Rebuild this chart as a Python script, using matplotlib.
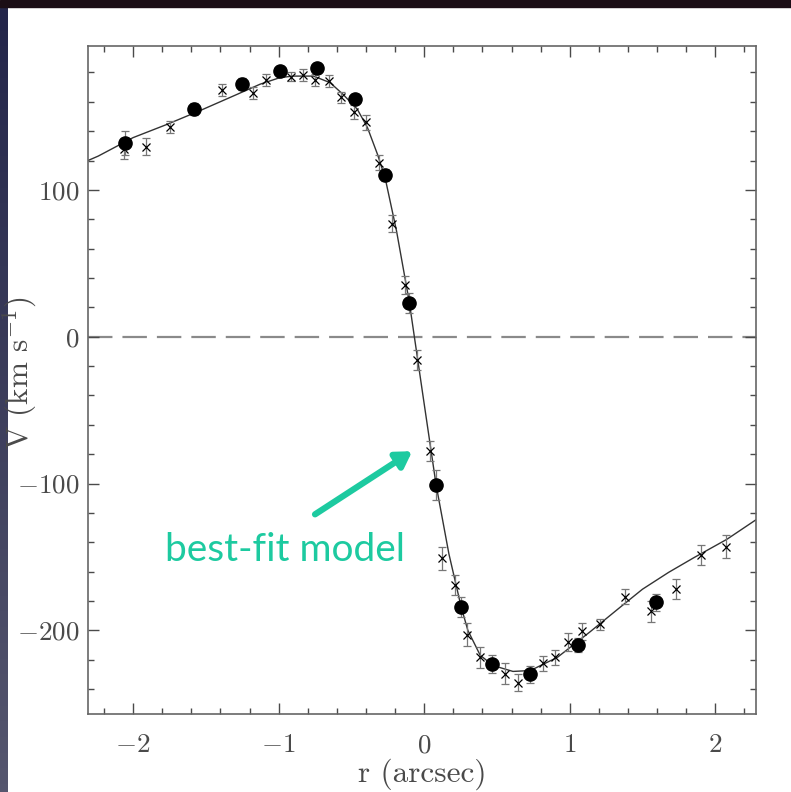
import matplotlib
matplotlib.use("Agg")
import matplotlib.pyplot as plt
import numpy as np
from matplotlib.patches import Rectangle
from matplotlib.ticker import MultipleLocator

plt.rcParams['font.family'] = ['cmr10', 'DejaVu Serif']
plt.rcParams['mathtext.fontset'] = 'cm'
plt.rcParams['axes.formatter.use_mathtext'] = True

# filled circles (r in arcsec, V in km/s, error)
circ_r = [-2.055, -1.58, -1.25, -0.99, -0.735, -0.474, -0.268, -0.103, 0.082, 0.254, 0.467, 0.729, 1.058, 1.595]
circ_v = [132, 155, 172, 181, 183, 162, 110, 23, -101, -184, -223, -230, -210, -181]
circ_e = [8, 4, 4, 3, 3, 3, 4, 7, 10, 7, 6, 6, 5, 6]

# crosses
crs_r = [-2.06, -1.91, -1.746, -1.39, -1.175, -1.086, -0.914, -0.83, -0.75, -0.653, -0.57, -0.48,
         -0.40, -0.31, -0.22, -0.13, -0.048, 0.041, 0.124, 0.213, 0.296, 0.385, 0.557, 0.646,
         0.818, 0.9, 0.99, 1.086, 1.21, 1.38, 1.56, 1.73, 1.90, 2.076]
crs_v = [128, 129.5, 143, 168, 166, 175, 177, 178, 175, 174, 163, 153,
         146, 118.5, 77, 35, -16, -78, -151, -169, -203, -218.5, -229.5, -235.6,
         -222.6, -218.5, -208, -200.7, -196, -177, -187, -172, -148.6, -143]
crs_e = [7, 6, 4, 4, 4, 4, 3, 4, 4, 4, 4, 5,
         5, 5, 6, 6, 7, 7, 8, 7, 8, 7, 7, 6,
         5, 5, 6, 6, 4, 5, 7, 7, 7, 8]

# best-fit model
mod_r = [-2.31, -2.24, -2.0, -1.77, -1.54, -1.31, -1.127, -0.99, -0.9, -0.76, -0.646, -0.557,
         -0.46, -0.39, -0.32, -0.268, -0.19, -0.103, -0.01, 0.082, 0.17, 0.254, 0.30, 0.385,
         0.474, 0.61, 0.73, 0.82, 0.914, 1.024, 1.14, 1.35, 1.5, 1.68, 1.85, 2.08, 2.28]
mod_v = [120, 123, 135.6, 144.5, 154, 164, 172, 176.5, 177.5, 177.5, 173, 165,
         155, 142.5, 124, 108, 72, 24, -39, -101, -148, -184, -200, -217,
         -224, -228, -227.4, -223, -218.5, -210, -201, -184, -172, -160.5, -150.7, -138, -124.7]

fig = plt.figure(figsize=(7.91, 7.92), dpi=100, facecolor='white')

# slide background edges
fig.add_artist(Rectangle((0, 1 - 7 / 792), 1, 7 / 792, transform=fig.transFigure,
                         color='#1b0e16', zorder=0))
grad = fig.add_axes([0, 0, 8 / 791, 1 - 7 / 792], zorder=-1)
grad.imshow(np.linspace(0, 1, 100).reshape(-1, 1), aspect='auto',
            cmap=matplotlib.colors.LinearSegmentedColormap.from_list('s', ['#24264a', '#55566e']))
grad.axis('off')

ax = fig.add_axes([88 / 791, 1 - 714 / 792, 668 / 791, 668 / 792])
grey = '#4a4a4a'

ax.axhline(0, color='#8a8a8a', lw=1.6, linestyle=(0, (11, 4.5)), zorder=1)
ax.plot(mod_r, mod_v, color='#333333', lw=1.0, zorder=2)

ax.errorbar(crs_r, crs_v, yerr=crs_e, fmt='x', color='black', ms=6, mew=0.9,
            ecolor='#777777', elinewidth=0.9, capsize=3, capthick=0.9, zorder=3)
ax.errorbar(circ_r, circ_v, yerr=circ_e, fmt='o', color='black', ms=9.5,
            ecolor='#777777', elinewidth=0.9, capsize=3, capthick=0.9, zorder=4)

ax.set_xlim(-2.31, 2.28)
ax.set_ylim(-257, 198)
ax.xaxis.set_major_locator(MultipleLocator(1))
ax.xaxis.set_minor_locator(MultipleLocator(0.2))
ax.yaxis.set_major_locator(MultipleLocator(100))
ax.yaxis.set_minor_locator(MultipleLocator(20))
ax.tick_params(which='both', direction='in', top=True, right=True, colors=grey,
               labelcolor=grey, labelsize=19.5, width=1.0)
ax.tick_params(which='major', length=8)
ax.tick_params(which='minor', length=4)
ax.tick_params(axis='x', which='major', pad=14)
ax.tick_params(axis='y', which='major', pad=6)
for s in ax.spines.values():
    s.set_color('#666666')
    s.set_linewidth(1.2)

ax.set_xlabel('r (arcsec)', fontsize=22.5, color=grey, labelpad=1)
ax.set_ylabel('V (km s$^{-1}$)', fontsize=22.5, color=grey)
ax.yaxis.set_label_coords(-0.074, 0.51)

teal = '#1dcaa0'
ax.text(-1.78, -145, 'best-fit model', fontsize=28, color=teal, family='Lato',
        ha='left', va='center')
ax.annotate('', xy=(-0.082, -78), xytext=(-0.75, -121),
            arrowprops=dict(arrowstyle='-|>,head_length=0.9,head_width=0.55',
                            color=teal, lw=4.5, shrinkA=0, shrinkB=0))

fig.savefig('out.png', dpi=100, facecolor='white')
